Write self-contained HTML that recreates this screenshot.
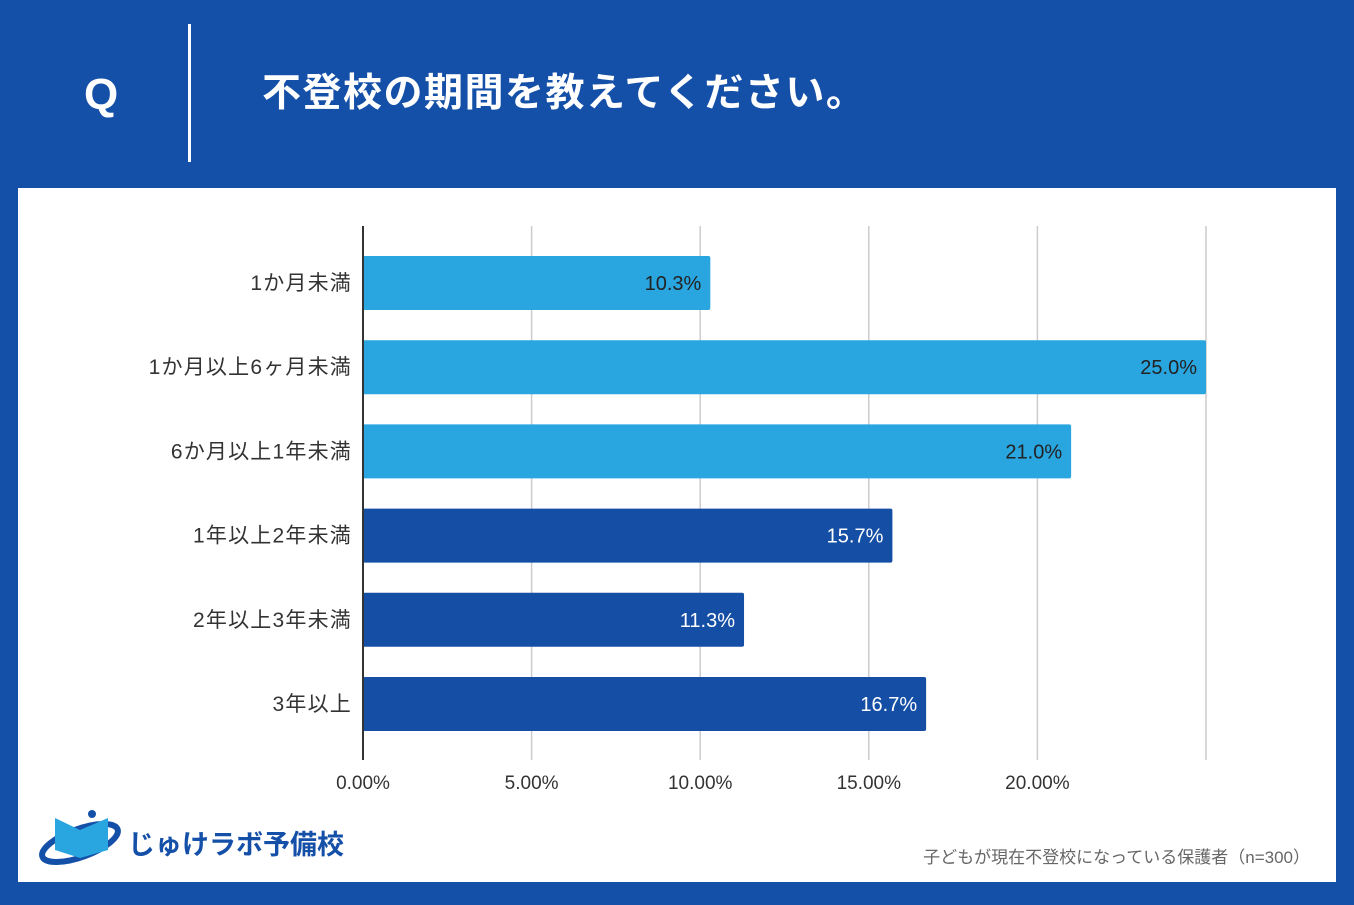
<!DOCTYPE html>
<html><head><meta charset="utf-8"><style>
body{margin:0;width:1354px;height:905px;background:#1550a8;position:relative;overflow:hidden;font-family:"Liberation Sans","Noto Sans CJK JP",sans-serif}
.q{position:absolute;left:84px;top:70px;color:#fff;font-size:44px;font-weight:bold}
.div{position:absolute;left:188px;top:24px;width:3px;height:138px;background:#fff}
.title{position:absolute;left:262px;top:62px;color:#fff;font-size:39px;letter-spacing:1.5px;font-weight:bold}
.panel{position:absolute;left:18px;top:188px;width:1318px;height:694px;background:#fff}
</style></head><body>
<div class="q">Q</div>
<div class="div"></div>
<div class="title">不登校の期間を教えてください。</div>
<div class="panel"></div>
<svg id="c" width="1354" height="905" style="position:absolute;left:0;top:0">
<g>
<ellipse cx="80" cy="843" rx="40" ry="14" fill="none" stroke="#1550a8" stroke-width="6" transform="rotate(-20 80 843)"/>
<path d="M55 818 L80 830 L80 858 L55 850Z" fill="#29a5e0"/>
<path d="M80 830 L108 818 L108 850 L80 858Z" fill="#29a5e0"/>
<circle cx="92" cy="814" r="4" fill="#1550a8"/>
<text x="128" y="854" font-size="27" font-weight="bold" fill="#1550a8">じゅけラボ予備校</text>
</g>
<text x="1310" y="863" font-size="17" fill="#666" text-anchor="end">子どもが現在不登校になっている保護者（n=300）</text>
</svg>
<script>
const categories=["1か月未満","1か月以上6ヶ月未満","6か月以上1年未満","1年以上2年未満","2年以上3年未満","3年以上"];
const values=[10.3,25.0,21.0,15.7,11.3,16.7];
const barColors=["#29a5e0","#29a5e0","#29a5e0","#154fa5","#154fa5","#154fa5"];
const ticks=[0,5,10,15,20];
const tickLabels=["0.00%","5.00%","10.00%","15.00%","20.00%"];
const svg=document.getElementById('c');const NS="http://www.w3.org/2000/svg";
const x=v=>363+v*(1206-363)/25;
const y=i=>283+i*84.2;
function mk(t,a){const e=document.createElementNS(NS,t);for(const k in a)e.setAttribute(k,a[k]);svg.appendChild(e);return e;}
[...ticks,25].forEach((t,i)=>{if(t===0)return;const l=mk('line',{x1:x(t),x2:x(t),y1:226,y2:760,stroke:'#ccc','stroke-width':1.5});

});
ticks.forEach((t,i)=>{const e=mk('text',{x:x(t),y:789,'font-size':19,fill:'#333','text-anchor':'middle'});e.textContent=tickLabels[i];

});
categories.forEach((c,i)=>{
const r=mk('rect',{x:x(0),y:y(i)-27,width:x(values[i])-x(0),height:54,fill:barColors[i],rx:2});


const v=mk('text',{x:x(values[i])-9,y:y(i)+7,'font-size':20,fill:i<3?'#222':'#fff','text-anchor':'end'});v.textContent=values[i].toFixed(1)+'%';


const l=mk('text',{x:352,y:y(i)+7,'font-size':21,'letter-spacing':1.2,fill:'#333','text-anchor':'end'});l.textContent=c;

});
const ax=mk('line',{x1:363,x2:363,y1:226,y2:760,stroke:'#333','stroke-width':2});


</script>
</body></html>
